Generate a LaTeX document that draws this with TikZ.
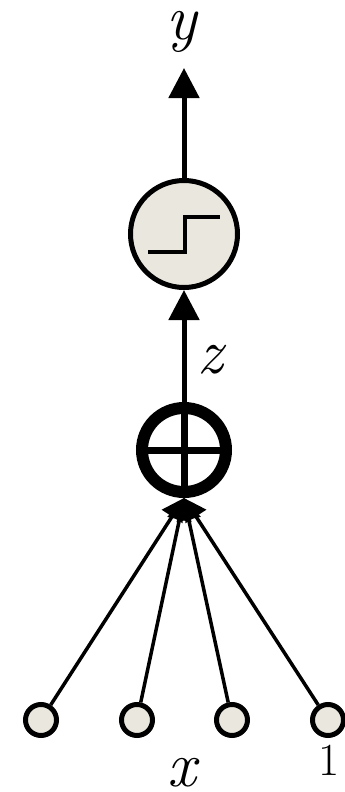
\documentclass[tikz,border=0pt]{standalone}
\usetikzlibrary{arrows.meta}
\definecolor{beige}{RGB}{234,232,222}

\begin{document}
\begin{tikzpicture}[x=1pt, y=-1pt,
    entree/.style={circle, draw, line width=5pt, fill=beige, minimum size=31pt, inner sep=0pt},
    somme/.style={circle, draw, line width=12pt, minimum size=84pt, inner sep=0pt},
    activ/.style={circle, draw, line width=5pt, fill=beige, minimum size=107pt, inner sep=0pt},
    fleche/.style={line width=5pt, -{Triangle[length=30pt, width=30pt]}},
    lien/.style={line width=3.5pt, -{Triangle[length=22pt, width=24pt]}},
    lettre/.style={font=\fontsize{64}{70}\selectfont\itshape, anchor=base, inner sep=0pt}]
        \useasboundingbox (0,0) rectangle (345,792);
        % Entrees
        \node[entree] (x1) at (41,720) {};
        \node[entree] (x2) at (137,720) {};
        \node[entree] (x3) at (232,720) {};
        \node[entree] (x4) at (328,720) {};
        % Sommateur
        \node[somme] (sum) at (184,450) {};
        \draw[line width=7pt, shift={(sum.center)}] (0,-42) -- (0,42) (-42,0) -- (42,0);
        % Fonction seuil
        \node[activ] (act) at (184,234) {};
        \draw[line width=4.5pt, shift={(act.center)}] (-36,18) -- (1,18) -- (1,-17) -- (36,-17);
        \coordinate (out) at (184,68);
        % Liaisons
        \foreach \i in {1,...,4}
            \draw[lien] (x\i) -- (sum.south);
        \draw[fleche] (sum.north) -- (act.south);
        \draw[fleche] (act.north) -- (out);
        % Etiquettes
        \node[lettre] (ly) at (182,40) {y};
        \node[lettre] (lz) at (210,373) {z};
        \node[lettre] (lx) at (182,786) {x};
        \node[anchor=base, inner sep=0pt, font=\fontsize{46}{50}\selectfont] (l1) at (329,775) {1};
    \end{tikzpicture}
\end{document}
